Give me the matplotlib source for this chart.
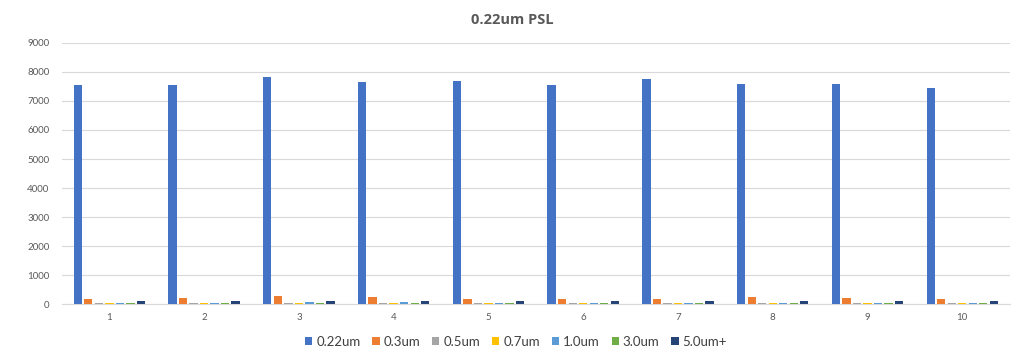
import matplotlib
matplotlib.use("Agg")
import matplotlib.pyplot as plt
import numpy as np

runs = ["1", "2", "3", "4", "5", "6", "7", "8", "9", "10"]
sizes = ["0.22um", "0.3um", "0.5um", "0.7um", "1.0um", "3.0um", "5.0um+"]
colors = ["#4472C4", "#ED7D31", "#A5A5A5", "#FFC000", "#5B9BD5", "#70AD47", "#264478"]

c_022 = [7550, 7545, 7810, 7640, 7680, 7545, 7740, 7580, 7580, 7440]
c_03 = [200, 230, 285, 240, 200, 200, 200, 260, 230, 180]
c_05 = [50, 50, 55, 50, 50, 50, 50, 50, 50, 50]
c_07 = [40, 40, 40, 40, 40, 40, 40, 40, 40, 40]
c_10 = [55, 60, 80, 80, 55, 55, 55, 55, 55, 55]
c_30 = [50, 50, 55, 50, 50, 50, 50, 50, 50, 50]
c_50 = [130, 130, 130, 130, 130, 130, 130, 130, 130, 130]
series = [c_022, c_03, c_05, c_07, c_10, c_30, c_50]

plt.rcParams["font.family"] = ["Lato", "DejaVu Sans"]
fig = plt.figure(figsize=(10.24, 3.56), dpi=100)
ax = fig.add_axes([0.0605, 0.145, 0.9255, 0.735])

x = np.arange(len(runs))
slot = 0.111
width = 0.088
for i, (name, vals, col) in enumerate(zip(sizes, series, colors)):
    ax.bar(x + (i - 3) * slot, vals, width=width, color=col, label=name, zorder=3)

ax.set_xlim(-0.5, len(runs) - 0.5)
ax.set_ylim(0, 9000)
ax.set_yticks(np.arange(0, 9001, 1000))
ax.set_xticks(x)
ax.set_xticklabels(runs)
ax.tick_params(axis="both", length=0, labelsize=7, colors="#595959")
ax.tick_params(axis="y", pad=9)
ax.tick_params(axis="x", pad=6)
ax.grid(axis="y", color="#D9D9D9", linewidth=0.8, zorder=0)
for s in ["top", "right", "left"]:
    ax.spines[s].set_visible(False)
ax.spines["bottom"].set_color("#D9D9D9")
ax.spines["bottom"].set_linewidth(0.8)

fig.text(0.5, 0.945, "0.22um PSL", ha="center", va="center", fontsize=10.5,
         fontweight="bold", color="#595959", family=["Open Sans", "DejaVu Sans"])

leg = fig.legend(loc="center", bbox_to_anchor=(0.504, 0.04), ncol=7, frameon=False,
                 fontsize=9.5, handlelength=0.55, handleheight=0.55,
                 handletextpad=0.3, columnspacing=0.9)
for t in leg.get_texts():
    t.set_color("#404040")

fig.savefig("out.png", dpi=100)
